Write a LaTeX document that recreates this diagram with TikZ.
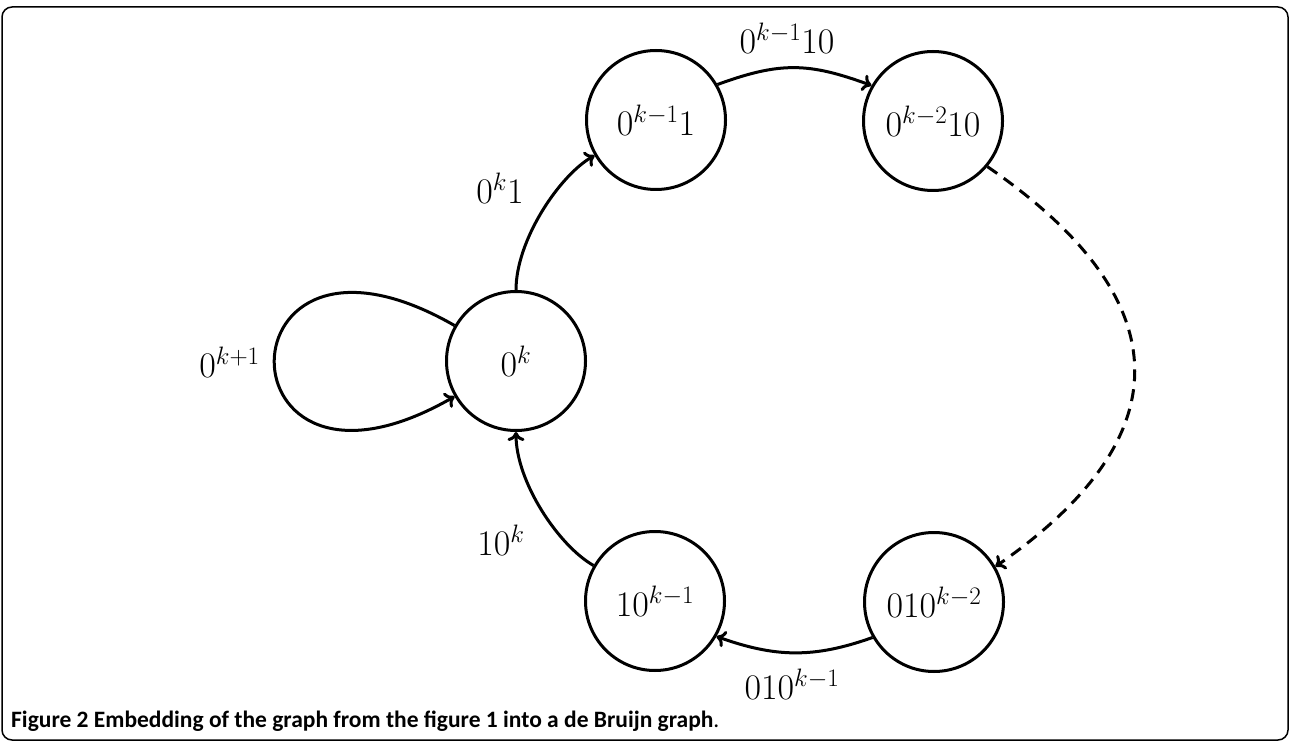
\RequirePackage{fix-cm}
\documentclass[tikz,border=0pt]{standalone}
\usepackage{fontspec}
\newfontfamily\capfont{Carlito}
\usetikzlibrary{arrows.meta}
\begin{document}
\begin{tikzpicture}[x=1pt,y=-1pt,
  st/.style={circle,draw,line width=3pt,minimum size=139pt,inner sep=0pt,font=\fontsize{36}{40}\selectfont},
  lab/.style={font=\fontsize{36}{40}\selectfont,inner sep=0pt},
  edge/.style={line width=3pt,-{Computer Modern Rightarrow[length=9pt,width=17pt]}},
  dashedge/.style={edge,dash pattern=on 12pt off 8pt},
  frame/.style={line width=1.5pt,rounded corners=10pt}]
\useasboundingbox (0,0) rectangle (1290,743);
\draw[frame] (2,7) rectangle (1288,740);
\node[st] (k0) at (516,361) {$0^k$};
\node[st] (a) at (656,120) {$0^{k-1}1$};
\node[st] (b) at (933,121) {$0^{k-2}10$};
\node[st] (c) at (934,602) {$010^{k-2}$};
\node[st] (d) at (655,601) {$10^{k-1}$};
\draw[edge] (k0.150) .. controls +(-240,-138) and +(-240,138) .. (k0.210);
\draw[edge] (k0.90) .. controls +(0,-50) and +(-35,20) .. (a.210);
\draw[edge] (a.30) .. controls +(63,-23) and +(-63,-23) .. (b.150);
\draw[dashedge] (b.-40) .. controls +(189,130) and +(192,-133) .. (c.30);
\draw[edge] (c.210) .. controls +(-59,21) and +(59,21) .. (d.-30);
\draw[edge] (d.150) .. controls +(-35,-20) and +(0,50) .. (k0.270);
\node[lab,anchor=east] (l0) at (260,362) {$0^{k+1}$};
\node[lab] (l1) at (500,188) {$0^k1$};
\node[lab] (l2) at (787,38) {$0^{k-1}10$};
\node[lab] (l3) at (792,684) {$010^{k-1}$};
\node[lab] (l4) at (501,540) {$10^k$};
\node[anchor=base west,inner sep=0pt,font=\capfont\fontsize{23.5}{27}\selectfont] (cap) at (11,727) {\textbf{Figure 2 Embedding of the graph from the figure 1 into a de Bruijn graph}.};
\end{tikzpicture}
\end{document}
